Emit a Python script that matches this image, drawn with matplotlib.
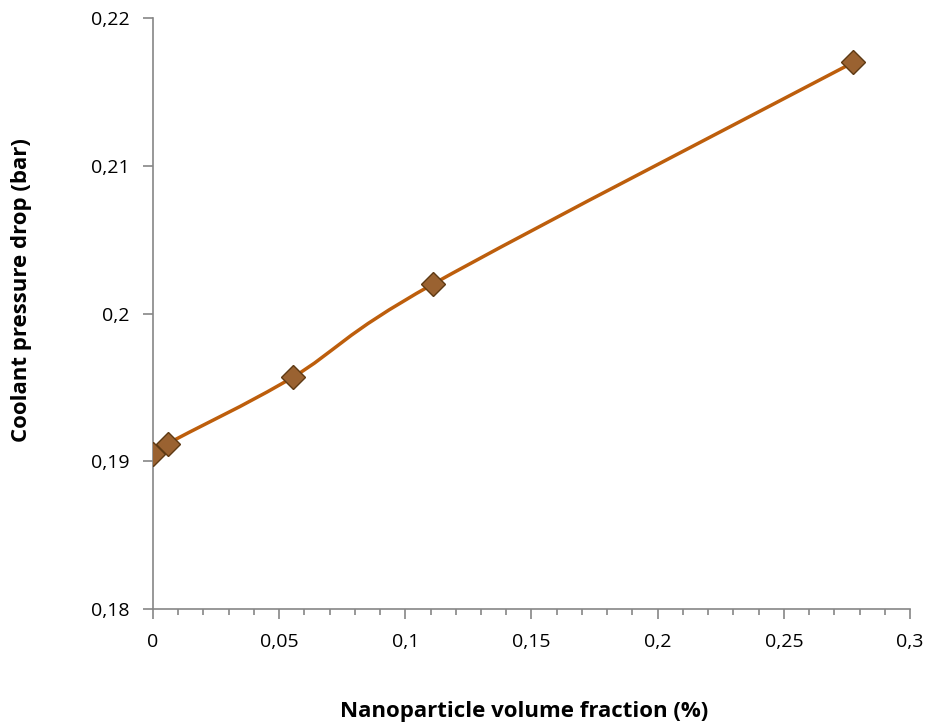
import numpy as np
import matplotlib
matplotlib.use('Agg')
import matplotlib.pyplot as plt
from matplotlib.path import Path
from matplotlib.patches import PathPatch
from matplotlib.ticker import FuncFormatter, MultipleLocator

# 数据
volume_fraction = [0.0, 0.0058, 0.0555, 0.111, 0.2775]
pressure_drop = [0.1905, 0.1912, 0.1957, 0.2020, 0.2170]

plt.rcParams['font.family'] = ['Open Sans', 'DejaVu Sans']

fig = plt.figure(figsize=(9.3, 7.25), dpi=100)
ax = fig.add_axes([0.1645, 0.16, 0.814, 0.815])

# 平滑曲线 (Catmull-Rom -> Bezier)
x = np.array(volume_fraction)
y = np.array(pressure_drop)
verts = [(x[0], y[0])]
codes = [Path.MOVETO]
t = 1 / 6
for i in range(len(x) - 1):
    x0, y0 = (x[i - 1], y[i - 1]) if i > 0 else (x[i], y[i])
    x3, y3 = (x[i + 2], y[i + 2]) if i + 2 < len(x) else (x[i + 1], y[i + 1])
    c1 = (x[i] + (x[i + 1] - x0) * t, y[i] + (y[i + 1] - y0) * t)
    c2 = (x[i + 1] - (x3 - x[i]) * t, y[i + 1] - (y3 - y[i]) * t)
    verts += [c1, c2, (x[i + 1], y[i + 1])]
    codes += [Path.CURVE4] * 3
ax.add_patch(PathPatch(Path(verts, codes), fill=False, edgecolor='#bd5e0c', lw=2.5, zorder=2))

ax.plot(volume_fraction, pressure_drop, linestyle='none', marker='D', markersize=12,
        markerfacecolor='#9a6231', markeredgecolor='#5e3a14', markeredgewidth=1.0, zorder=3)

ax.set_xlim(0, 0.3)
ax.set_ylim(0.18, 0.22)
ax.xaxis.set_major_locator(MultipleLocator(0.05))
ax.xaxis.set_minor_locator(MultipleLocator(0.01))
ax.yaxis.set_major_locator(MultipleLocator(0.01))

fmt = FuncFormatter(lambda v, p: ('%g' % round(v, 4)).replace('.', ','))
ax.xaxis.set_major_formatter(fmt)
ax.yaxis.set_major_formatter(fmt)

for s in ['top', 'right']:
    ax.spines[s].set_visible(False)
for s in ['left', 'bottom']:
    ax.spines[s].set_color('#868686')
    ax.spines[s].set_linewidth(1.2)

ax.tick_params(axis='both', which='major', direction='out', length=7, width=1.2,
               color='#868686', labelsize=14, pad=10)
ax.tick_params(axis='x', which='minor', direction='out', length=4, width=1.2, color='#868686')

ax.set_xlabel('Nanoparticle volume fraction (%)', fontsize=16, fontweight='bold')
ax.set_ylabel('Coolant pressure drop (bar)', fontsize=16, fontweight='bold')
ax.xaxis.set_label_coords(0.49, -0.156)
ax.yaxis.set_label_coords(-0.16, 0.54)

fig.savefig('out.png', dpi=100)
